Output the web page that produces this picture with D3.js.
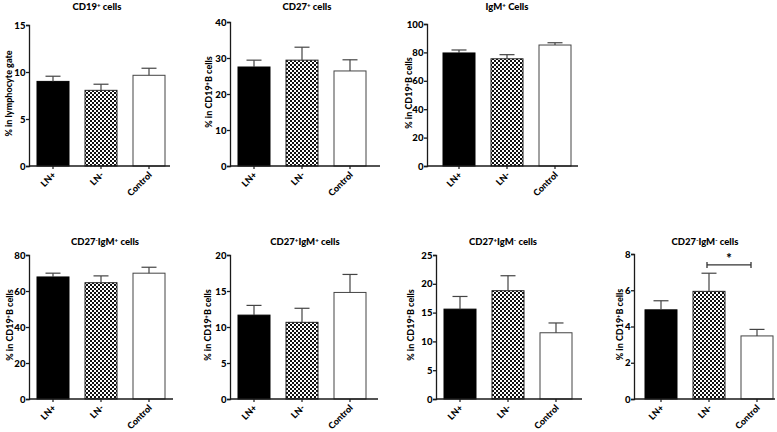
<!DOCTYPE html>
<html><head><meta charset="utf-8">
<script src="https://cdn.jsdelivr.net/npm/d3@7"></script>
<style>
html,body{margin:0;padding:0;background:#fff;}
svg{display:block;font-family:Lato,"Open Sans",sans-serif;font-weight:bold;}
</style></head>
<body><svg id="chart" width="777" height="432"></svg>
<script>
// ---------- data ----------
const categories = ["LN+", "LN-", "Control"];
const titles = [
  [["CD19",""],["+","sup"],[" cells",""]],
  [["CD27",""],["+","sup"],[" cells",""]],
  [["IgM",""],["+","sup"],[" Cells",""]],
  [["CD27",""],["-","sup"],["IgM",""],["+","sup"],[" cells",""]],
  [["CD27",""],["+","sup"],["IgM",""],["+","sup"],[" cells",""]],
  [["CD27",""],["+","sup"],["IgM",""],["-","sup"],[" cells",""]],
  [["CD27",""],["-","sup"],["IgM",""],["-","sup"],[" cells",""]]
];
const yLabelLymph = [["% in lymphocyte gate",""]];
const yLabelB = [["% in CD19",""],["+","sup"],["B cells",""]];
const meansP1 = [9.0, 8.05, 9.65];
const semP1 = [0.55, 0.65, 0.75];
const meansP2 = [27.5, 29.4, 26.4];
const semP2 = [1.9, 3.6, 3.1];
const meansP3 = [79.6, 75.5, 85.2];
const semP3 = [2.1, 2.9, 1.6];
const meansP4 = [67.8, 64.6, 69.9];
const semP4 = [2.1, 3.8, 3.3];
const meansP5 = [11.65, 10.65, 14.8];
const semP5 = [1.35, 1.95, 2.5];
const meansP6 = [15.6, 18.8, 11.5];
const semP6 = [2.2, 2.6, 1.7];
const meansP7 = [4.92, 5.94, 3.48];
const semP7 = [0.5, 1.0, 0.36];
const yMax = [15, 40, 100, 80, 20, 25, 8];
const yStep = [5, 10, 20, 20, 5, 5, 2];
const sigP7 = {from: "LN-", to: "Control", label: "*", level: 7.4};

// ---------- layout ----------
const layout = [
  {ax:29,  bar:37,  xEnd:170, yTop:25,  yBot:166, ttlX:97,  ttlY:10,  ylX:9,   yl:yLabelLymph},
  {ax:230, bar:238, xEnd:380, yTop:22,  yBot:166, ttlX:307, ttlY:10,  ylX:209, yl:yLabelB},
  {ax:427, bar:443, xEnd:578, yTop:24,  yBot:166, ttlX:507, ttlY:10,  ylX:409, yl:yLabelB},
  {ax:29,  bar:37,  xEnd:173, yTop:255, yBot:399, ttlX:105, ttlY:245, ylX:10,  yl:yLabelB},
  {ax:230, bar:238, xEnd:378, yTop:255, yBot:399, ttlX:305, ttlY:245, ylX:208, yl:yLabelB},
  {ax:436, bar:444, xEnd:582, yTop:255, yBot:399, ttlX:503, ttlY:245, ylX:411, yl:yLabelB},
  {ax:634, bar:645, xEnd:775, yTop:254, yBot:399, ttlX:705, ttlY:245, ylX:620, yl:yLabelB}
];
const means = [meansP1, meansP2, meansP3, meansP4, meansP5, meansP6, meansP7];
const sems = [semP1, semP2, semP3, semP4, semP5, semP6, semP7];

const svg = d3.select("#chart");
const defs = svg.append("defs");
const pat = defs.append("pattern").attr("id","checker").attr("patternUnits","userSpaceOnUse")
  .attr("width",4).attr("height",4);
pat.append("rect").attr("width",4).attr("height",4).attr("fill","#111");
pat.append("rect").attr("x",0).attr("y",0).attr("width",2).attr("height",2).attr("fill","#fff");
pat.append("rect").attr("x",2).attr("y",2).attr("width",2).attr("height",2).attr("fill","#fff");

const fills = ["#000", "url(#checker)", "#fff"];
const strokes = ["#000", "#222", "#444"];
const ink = "#1a1a1a";
const FONT = "Lato,'Open Sans',sans-serif";

function richText(sel, parts, size) {
  parts.forEach(([t, kind]) => {
    const ts = sel.append("tspan").text(t);
    if (kind === "sup") ts.attr("font-size", size*0.65).attr("baseline-shift","super");
  });
}

layout.forEach((L, i) => {
  const g = svg.append("g");
  const step = 48;
  const x = d3.scaleBand().domain(categories)
    .range([L.bar - step/6, L.bar - step/6 + 3*step])
    .paddingInner(1/3).paddingOuter(1/6);
  const y = d3.scaleLinear().domain([0, yMax[i]]).range([L.yBot, L.yTop]);

  // bars
  categories.forEach((c, j) => {
    g.append("rect")
      .attr("x", x(c)).attr("y", y(means[i][j]))
      .attr("width", x.bandwidth()).attr("height", y(0) - y(means[i][j]))
      .attr("fill", fills[j]).attr("stroke", strokes[j]).attr("stroke-width", 1);
    const cx = x(c) + x.bandwidth()/2;
    const top = y(means[i][j] + sems[i][j]);
    g.append("line").attr("x1", cx).attr("x2", cx)
      .attr("y1", y(means[i][j])).attr("y2", top)
      .attr("stroke", "#444").attr("stroke-width", 1.2);
    g.append("line").attr("x1", cx - 7.5).attr("x2", cx + 7.5)
      .attr("y1", top).attr("y2", top)
      .attr("stroke", "#444").attr("stroke-width", 1.2);
  });

  // y axis
  const ticks = d3.range(0, yMax[i] + 1e-9, yStep[i]);
  const yAxis = d3.axisLeft(y).tickValues(ticks).tickSize(3).tickPadding(0.5).tickFormat(d3.format("d"));
  const ya = g.append("g").attr("transform", `translate(${L.ax},0)`).call(yAxis);
  ya.select(".domain").attr("stroke", ink).attr("stroke-width", 1.3);
  ya.selectAll(".tick line").attr("stroke", ink).attr("stroke-width", 1.3);
  ya.selectAll("text").attr("font-size", 9.6).attr("font-weight", "900")
    .attr("font-family", FONT).attr("fill", "#000");

  // x axis
  g.append("line").attr("x1", L.ax).attr("x2", L.xEnd).attr("y1", L.yBot).attr("y2", L.yBot)
    .attr("stroke", ink).attr("stroke-width", 1.3);
  const xAxis = d3.axisBottom(x).tickSize(3).tickSizeOuter(0).tickPadding(2);
  const xa = g.append("g").attr("transform", `translate(0,${L.yBot})`).call(xAxis);
  xa.select(".domain").remove();
  xa.selectAll(".tick line").attr("stroke", ink).attr("stroke-width", 1.2);
  xa.selectAll("text").attr("font-size", 9).attr("font-weight", "900")
    .attr("font-family", FONT).attr("fill", "#000")
    .attr("text-anchor", "end").attr("dy", "0.3em").attr("dx", "0")
    .attr("transform", "translate(-2,4) rotate(-45)");

  // title
  const t = g.append("text").attr("x", L.ttlX).attr("y", L.ttlY).attr("text-anchor", "middle")
    .attr("font-size", 9.5).attr("font-weight", "900").attr("fill", "#000");
  richText(t, titles[i], 9.5);

  // y label
  const yc = (L.yTop + L.yBot) / 2 - 2;
  const yl = g.append("text").attr("transform", `translate(${L.ylX},${yc}) rotate(-90)`)
    .attr("text-anchor", "middle").attr("dy", "0.35em").attr("font-size", 9)
    .attr("font-weight", "900").attr("fill", "#000");
  richText(yl, L.yl, 9);

  // significance
  if (i === 6) {
    const x1 = x(sigP7.from) + x.bandwidth()/2 - 2;
    const x2 = x(sigP7.to) + x.bandwidth()/2 - 6;
    const yy = y(sigP7.level);
    g.append("line").attr("x1", x1).attr("x2", x2).attr("y1", yy).attr("y2", yy)
      .attr("stroke", "#333").attr("stroke-width", 1.3);
    [x1, x2].forEach(xx => g.append("line").attr("x1", xx).attr("x2", xx)
      .attr("y1", yy - 3).attr("y2", yy + 3).attr("stroke", "#333").attr("stroke-width", 1.3));
    g.append("text").attr("x", (x1 + x2)/2).attr("y", yy - 2).attr("text-anchor", "middle")
      .attr("font-size", 13).attr("font-weight", "900").attr("fill", "#000").text(sigP7.label);
  }
});
</script></body></html>
